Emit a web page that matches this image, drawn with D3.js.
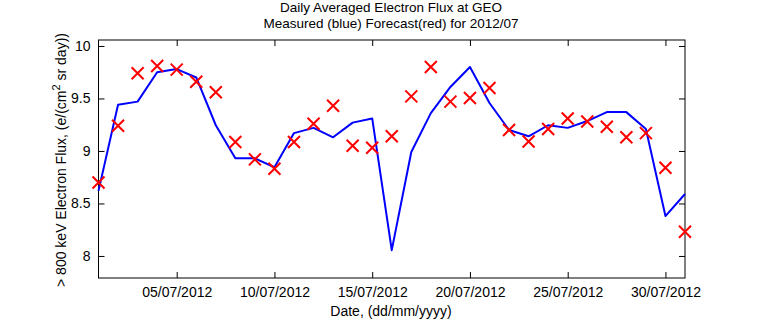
<!DOCTYPE html>
<html><head><meta charset="utf-8">
<script src="https://cdn.jsdelivr.net/npm/d3@7"></script>
<style>
body{margin:0;background:#fff;}
text{font-family:"Liberation Sans",Arial,sans-serif;fill:#000;}
</style></head>
<body>
<svg id="c" width="757" height="324"></svg>
<script>
const days = d3.range(1, 32);
const measured = [8.62,9.44,9.47,9.75,9.78,9.70,9.245,8.93,8.93,8.845,9.17,9.22,9.13,9.27,9.31,8.055,8.99,9.36,9.61,9.80,9.457,9.20,9.14,9.245,9.22,9.285,9.37,9.37,9.21,8.38,8.59];
const forecast = [8.70,9.24,9.74,9.81,9.775,9.66,9.56,9.085,8.92,8.83,9.085,9.26,9.43,9.05,9.03,9.14,9.52,9.80,9.47,9.505,9.60,9.20,9.09,9.21,9.31,9.28,9.23,9.13,9.17,8.84,8.23];
const xTickDays = [5,10,15,20,25,30];
const xTickLabels = ["05/07/2012","10/07/2012","15/07/2012","20/07/2012","25/07/2012","30/07/2012"];
const yTicks = [8,8.5,9,9.5,10];
const yTickLabels = ["8","8.5","9","9.5","10"];

const L=98.5, R=685, T=40, B=278;
const svg = d3.select("#c");
const x = d3.scaleLinear().domain([1,31]).range([L,R]);
const y = d3.scaleLinear().domain([7.79,10.057]).range([B,T]);

const fs = "14px";
const tk = 6;
svg.append("g").attr("transform",`translate(0,${B})`)
  .call(d3.axisBottom(x).tickValues(xTickDays).tickFormat((d,i)=>xTickLabels[i]).tickSizeInner(-tk).tickSizeOuter(0).tickPadding(9))
  .call(g=>g.select(".domain").remove())
  .call(g=>g.selectAll("text").style("font-size",fs));
svg.append("g").attr("transform",`translate(0,${T})`)
  .call(d3.axisTop(x).tickValues(xTickDays).tickFormat("").tickSizeInner(-tk).tickSizeOuter(0))
  .call(g=>g.select(".domain").remove());
svg.append("g").attr("transform",`translate(${L},0)`)
  .call(d3.axisLeft(y).tickValues(yTicks).tickFormat((d,i)=>yTickLabels[i]).tickSizeInner(-tk).tickSizeOuter(0).tickPadding(8))
  .call(g=>g.select(".domain").remove())
  .call(g=>g.selectAll("text").style("font-size",fs));
svg.append("g").attr("transform",`translate(${R},0)`)
  .call(d3.axisRight(y).tickValues(yTicks).tickFormat("").tickSizeInner(-tk).tickSizeOuter(0))
  .call(g=>g.select(".domain").remove());
svg.selectAll(".tick line").attr("stroke","#000");
svg.append("rect").attr("x",L).attr("y",T).attr("width",R-L).attr("height",B-T)
  .attr("fill","none").attr("stroke","#000").attr("stroke-width",1);

const line = d3.line().x((d,i)=>x(days[i])).y(d=>y(d));
svg.append("path").datum(measured).attr("d",line).attr("fill","none")
  .attr("stroke","#0000ff").attr("stroke-width",2).attr("stroke-linejoin","round");

const s=6;
svg.append("g").selectAll("path").data(forecast).join("path")
  .attr("d",(d,i)=>{const cx=x(days[i]),cy=y(d);return `M${cx-s},${cy-s}L${cx+s},${cy+s}M${cx-s},${cy+s}L${cx+s},${cy-s}`;})
  .attr("stroke","#ff0000").attr("stroke-width",2).attr("fill","none");

const tfs = "13.5px";
svg.append("text").attr("x",391).attr("y",12).attr("text-anchor","middle").style("font-size",tfs).text("Daily Averaged Electron Flux at GEO");
svg.append("text").attr("x",391).attr("y",27.5).attr("text-anchor","middle").style("font-size",tfs).text("Measured (blue) Forecast(red) for 2012/07");
svg.append("text").attr("x",391).attr("y",316).attr("text-anchor","middle").style("font-size",fs).text("Date, (dd/mm/yyyy)");
const yl = svg.append("text").attr("transform","translate(66,160) rotate(-90)").attr("text-anchor","middle").style("font-size",fs);
yl.append("tspan").text("> 800 keV Electron Flux, (e/(cm");
yl.append("tspan").attr("dy",-6).style("font-size","11px").text("2");
yl.append("tspan").attr("dy",6).text(" sr day))");
</script>
</body></html>
